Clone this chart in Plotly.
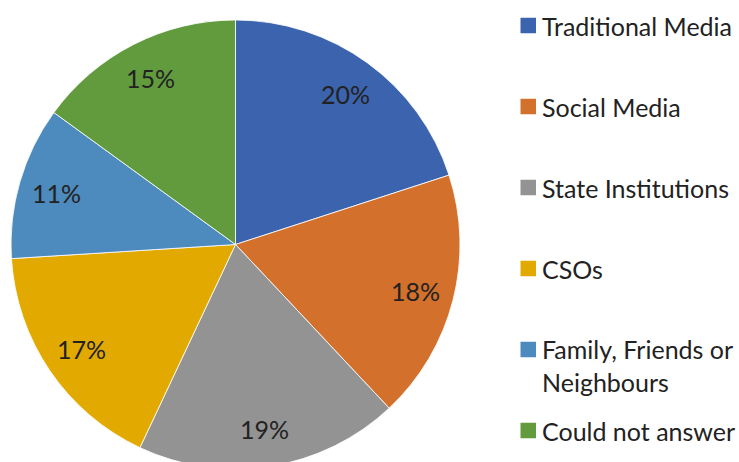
import math
import plotly.graph_objects as go

# ---- data ----
categories = ["Traditional Media", "Social Media", "State Institutions", "CSOs",
              "Family, Friends or Neighbours", "Could not answer"]
legend_text = ["Traditional Media", "Social Media", "State Institutions", "CSOs",
               "Family, Friends or<br>Neighbours", "Could not answer"]
values = [20, 18, 19, 17, 11, 15]
colors = ["#3C63AD", "#D2702C", "#939393", "#E2AA00", "#4D8ABD", "#619B3E"]

# ---- geometry (pixels) ----
W, H = 739, 470
cx, cy, r = 235.5, 244.5, 224.5
label_k = 0.83
FONT = "Lato, 'Open Sans', sans-serif"
FS = 25
TXT = "#222222"

fig = go.Figure()
fig.add_trace(go.Pie(
    labels=categories, values=values, sort=False, direction="clockwise", rotation=0,
    marker=dict(colors=colors, line=dict(color="white", width=0.8)),
    textinfo="none", showlegend=False, hoverinfo="label+percent",
    domain=dict(x=[(cx - r) / W, (cx + r) / W], y=[1 - (cy + r) / H, 1 - (cy - r) / H]),
))

annotations = []
total = sum(values)
cum = 0
for v in values:
    mid = (cum + v / 2) / total
    cum += v
    th = 2 * math.pi * mid
    px = cx + label_k * r * math.sin(th)
    py = cy - label_k * r * math.cos(th)
    annotations.append(dict(x=px / W, y=1 - py / H, xref="paper", yref="paper",
                            text=f"{round(v / total * 100)}%", showarrow=False,
                            xanchor="center", yanchor="middle",
                            font=dict(family=FONT, size=FS, color=TXT)))

# manual legend
shapes = []
leg_y0, leg_step, sq = 25.5, 81, 15.5
sq_x0, txt_x = 520.5, 540
for i, (lab, col) in enumerate(zip(legend_text, colors)):
    yc = leg_y0 + leg_step * i
    shapes.append(dict(type="rect", xref="paper", yref="paper",
                       x0=sq_x0 / W, x1=(sq_x0 + sq) / W,
                       y0=1 - (yc + sq / 2) / H, y1=1 - (yc - sq / 2) / H,
                       fillcolor=col, line=dict(width=0)))
    nlines = lab.count("<br>") + 1
    ytxt = yc + (nlines - 1) * 1.3 * FS / 2
    annotations.append(dict(x=txt_x / W, y=1 - ytxt / H, xref="paper", yref="paper",
                            text=lab, showarrow=False, xanchor="left", yanchor="middle",
                            align="left", font=dict(family=FONT, size=FS, color=TXT)))

fig.update_layout(width=W, height=H, margin=dict(l=0, r=0, t=0, b=0),
                  paper_bgcolor="white", plot_bgcolor="white",
                  annotations=annotations, shapes=shapes, showlegend=False)

fig.write_html("out.html", config={"displayModeBar": False},
               post_script="document.body.style.margin='0';document.body.style.overflow='hidden';")
